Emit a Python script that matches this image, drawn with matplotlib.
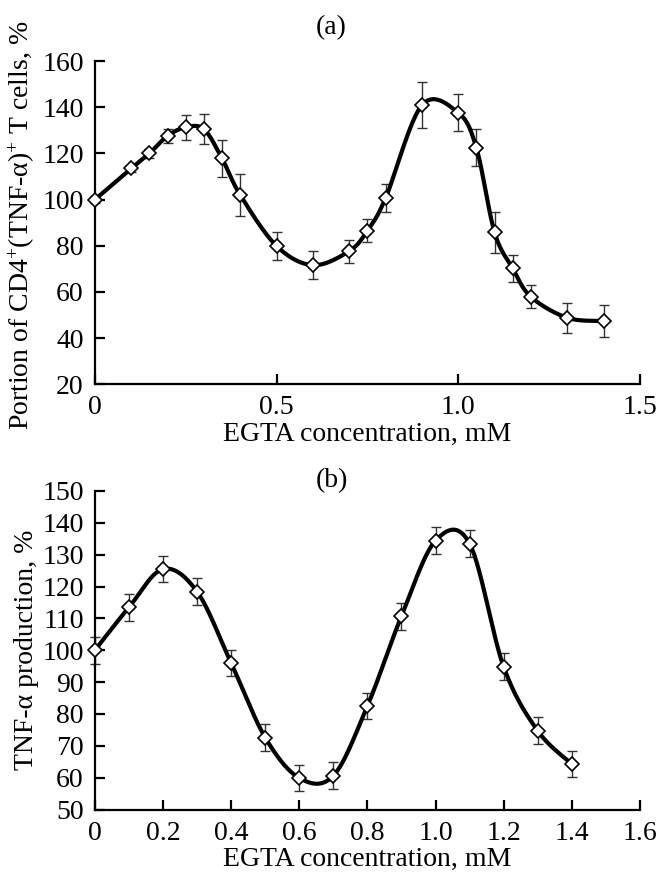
import numpy as np
import matplotlib
matplotlib.use('Agg')
import matplotlib.pyplot as plt

plt.rcParams['font.family'] = 'Liberation Serif'
plt.rcParams['mathtext.fontset'] = 'custom'
plt.rcParams['mathtext.rm'] = 'Liberation Serif'
plt.rcParams['mathtext.it'] = 'Liberation Serif:italic'
plt.rcParams['font.size'] = 20

# panel (a): CD4+(TNF-a)+ T cells
xa = [0, 0.1, 0.15, 0.2, 0.25, 0.3, 0.35, 0.4, 0.5, 0.6, 0.7, 0.75, 0.8,
      0.9, 1.0, 1.05, 1.1, 1.15, 1.2, 1.3, 1.4]
ya = [100, 113.5, 120, 127.6, 131.3, 130.5, 117.8, 102, 79.9, 71.6, 77.7, 86.5, 100.6,
      140.9, 137.6, 122.4, 85.8, 70.2, 57.9, 48.8, 47.4]
ea = [1.5, 1.5, 2, 3, 5.5, 6.5, 8, 9, 6, 6, 5, 5, 6,
      10, 8, 8, 9, 6, 5, 6.5, 7]

# panel (b): TNF-a production
xb = [0, 0.1, 0.2, 0.3, 0.4, 0.5, 0.6, 0.7, 0.8, 0.9, 1.0, 1.1, 1.2, 1.3, 1.4]
yb = [100, 113.5, 125.5, 118.4, 96, 72.6, 59.9, 60.6, 82.5, 110.7, 134.4, 133.5, 94.8, 74.7, 64.3]
eb = [4.2, 4.2, 4.2, 4.2, 4.2, 4.2, 4.2, 4.2, 4.2, 4.2, 4.2, 4.2, 4.2, 4.2, 4.2]


def smooth(x, y, n=30):
    # excel-like smoothed line (bezier through the points)
    pts = np.column_stack([x, y]).astype(float)
    p = np.vstack([pts[0], pts, pts[-1]])
    t = np.linspace(0, 1, n)[:, None]
    out = []
    for i in range(1, len(p) - 2):
        p0, p1, p2, p3 = p[i - 1], p[i], p[i + 1], p[i + 2]
        c1 = p1 + (p2 - p0) / 6
        c2 = p2 - (p3 - p1) / 6
        seg = (1 - t)**3 * p1 + 3 * (1 - t)**2 * t * c1 + 3 * (1 - t) * t**2 * c2 + t**3 * p2
        out.append(seg)
    return np.vstack(out)


def draw(ax, x, y, e):
    c = smooth(x, y)
    ax.plot(c[:, 0], c[:, 1], color='black', lw=3, zorder=3, clip_on=False)
    ax.errorbar(x, y, yerr=e, fmt='none', ecolor='#333333', elinewidth=1,
                capsize=3.5, capthick=1, zorder=2, clip_on=False)
    ax.plot(x, y, 'D', ms=7.5, mfc='white', mec='black', mew=1.2, zorder=4, clip_on=False)
    for s in ['top', 'right']:
        ax.spines[s].set_visible(False)
    for s in ['left', 'bottom']:
        ax.spines[s].set_linewidth(1.6)
    ax.tick_params(direction='in', length=7, width=1.6, pad=8)


fig = plt.figure(figsize=(6.59, 8.76), dpi=100)

ax1 = fig.add_axes([0.144, 0.5613, 0.827, 0.369])
draw(ax1, xa, ya, ea)
ax1.set_xlim(0, 1.5)
ax1.set_ylim(20, 160)
ax1.set_xticks([0, 0.5, 1.0, 1.5])
ax1.set_xticklabels(['0', '0.5', '1.0', '1.5'])
ax1.set_yticks(range(20, 161, 20))
ax1.set_xlabel('EGTA concentration, mM', labelpad=1)

ax2 = fig.add_axes([0.144, 0.0759, 0.827, 0.3636])
draw(ax2, xb, yb, eb)
ax2.set_xlim(0, 1.6)
ax2.set_ylim(50, 150)
ax2.set_xticks(np.arange(0, 1.61, 0.2))
ax2.set_xticklabels(['0', '0.2', '0.4', '0.6', '0.8', '1.0', '1.2', '1.4', '1.6'])
ax2.set_yticks(range(50, 151, 10))
ax2.set_xlabel('EGTA concentration, mM', labelpad=1)

fig.text(0.034, 0.743, 'Portion of CD4$^{+}$(TNF-α)$^{+}$ T cells, %', rotation=90,
         ha='center', va='center')
fig.text(0.040, 0.258, 'TNF-α production, %', rotation=90, ha='center', va='center')
fig.text(0.503, 0.969, '(a)', ha='center', va='center')
fig.text(0.503, 0.451, '(b)', ha='center', va='center')

fig.savefig('out.png', dpi=100)
